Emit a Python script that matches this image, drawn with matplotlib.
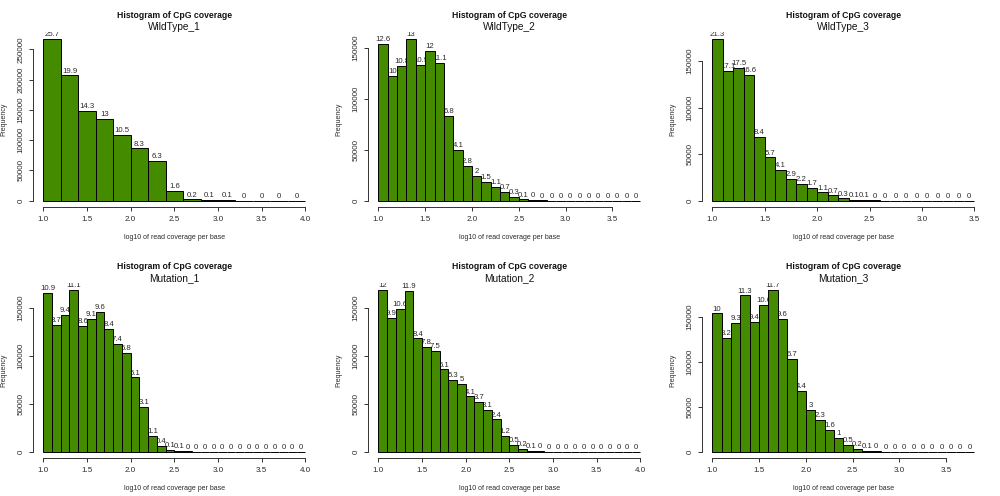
import matplotlib.pyplot as plt
import numpy as np

plt.rc('font', family='Liberation Sans')

# histogram breaks (log10 of read coverage per base)
breaks_wt1 = np.round(np.arange(1.0, 4.0001, 0.2), 1)
breaks_wt2 = np.round(np.arange(1.0, 3.8001, 0.1), 1)
breaks_wt3 = np.round(np.arange(1.0, 3.5001, 0.1), 1)
breaks_mu1 = np.round(np.arange(1.0, 4.0001, 0.1), 1)
breaks_mu2 = np.round(np.arange(1.0, 4.0001, 0.1), 1)
breaks_mu3 = np.round(np.arange(1.0, 3.8001, 0.1), 1)

# bin counts
counts_wt1 = [267300, 207000, 148700, 135200, 109200, 86300, 65500, 16600, 2100,
              1000, 900, 300, 150, 80, 40]
counts_wt2 = [153600, 121900, 131700, 158500, 132900, 146300, 135300, 82900, 50000,
              34100, 24400, 18300, 13400, 8500, 3700, 1200, 500, 250, 150, 100,
              60, 40, 30, 20, 10, 10, 5, 5]
counts_wt3 = [174000, 139700, 143000, 135600, 68600, 46600, 33500, 23700, 18000,
              13900, 9000, 5700, 2500, 1000, 600, 300, 150, 80, 50, 30, 20, 10, 10, 5, 5]
counts_mu1 = [165400, 132000, 142600, 168400, 130500, 138000, 145600, 127400, 112300,
              103200, 77400, 47000, 16700, 6100, 1800, 900, 400, 200, 120, 80, 50,
              30, 20, 15, 10, 8, 5, 3, 2, 1]
counts_mu2 = [168400, 138900, 148700, 167000, 117900, 109400, 105200, 85600, 74400,
              70200, 57500, 51900, 43500, 33700, 16800, 7000, 2800, 1100, 450, 200,
              100, 60, 40, 25, 15, 10, 6, 4, 2, 1]
counts_mu3 = [153500, 125900, 142800, 173500, 144300, 162700, 179600, 147400, 102800,
              67500, 46000, 35300, 24600, 15400, 7700, 3100, 1300, 500, 250, 120, 70,
              40, 25, 15, 10, 5, 3, 2]

# percentage labels printed above the bars
pct_wt1 = [25.7, 19.9, 14.3, 13, 10.5, 8.3, 6.3, 1.6, 0.2, 0.1, 0.1, 0, 0, 0, 0]
pct_wt2 = [12.6, 10, 10.8, 13, 10.9, 12, 11.1, 6.8, 4.1, 2.8, 2, 1.5, 1.1, 0.7, 0.3,
           0.1, 0, 0, 0, 0, 0, 0, 0, 0, 0, 0, 0, 0]
pct_wt3 = [21.3, 17.1, 17.5, 16.6, 8.4, 5.7, 4.1, 2.9, 2.2, 1.7, 1.1, 0.7, 0.3, 0.1,
           0.1, 0, 0, 0, 0, 0, 0, 0, 0, 0, 0]
pct_mu1 = [10.9, 8.7, 9.4, 11.1, 8.6, 9.1, 9.6, 8.4, 7.4, 6.8, 5.1, 3.1, 1.1, 0.4,
           0.1, 0.1, 0, 0, 0, 0, 0, 0, 0, 0, 0, 0, 0, 0, 0, 0]
pct_mu2 = [12, 9.9, 10.6, 11.9, 8.4, 7.8, 7.5, 6.1, 5.3, 5, 4.1, 3.7, 3.1, 2.4, 1.2,
           0.5, 0.2, 0.1, 0, 0, 0, 0, 0, 0, 0, 0, 0, 0, 0, 0]
pct_mu3 = [10, 8.2, 9.3, 11.3, 9.4, 10.6, 11.7, 9.6, 6.7, 4.4, 3, 2.3, 1.6, 1, 0.5,
           0.2, 0.1, 0, 0, 0, 0, 0, 0, 0, 0, 0, 0, 0]

samples = ['WildType_1', 'WildType_2', 'WildType_3', 'Mutation_1', 'Mutation_2', 'Mutation_3']
breaks = [breaks_wt1, breaks_wt2, breaks_wt3, breaks_mu1, breaks_mu2, breaks_mu3]
counts = [counts_wt1, counts_wt2, counts_wt3, counts_mu1, counts_mu2, counts_mu3]
pcts = [pct_wt1, pct_wt2, pct_wt3, pct_mu1, pct_mu2, pct_mu3]
xtick_sets = [[1.0, 1.5, 2.0, 2.5, 3.0, 3.5, 4.0], [1.0, 1.5, 2.0, 2.5, 3.0, 3.5],
              [1.0, 1.5, 2.0, 2.5, 3.0, 3.5], [1.0, 1.5, 2.0, 2.5, 3.0, 3.5, 4.0],
              [1.0, 1.5, 2.0, 2.5, 3.0, 3.5, 4.0], [1.0, 1.5, 2.0, 2.5, 3.0, 3.5]]
ytick_sets = [[0, 50000, 100000, 150000, 200000, 250000]] + [[0, 50000, 100000, 150000]] * 5

fig = plt.figure(figsize=(10, 4.96), dpi=100)
lefts = [0.0328, 0.3679, 0.7018]
bottoms = [0.5823, 0.0762]
w, h = 0.283, 0.3524
txt = '#2a2a2a'

for i in range(6):
    ax = fig.add_axes([lefts[i % 3], bottoms[i // 3], w, h])
    edges = breaks[i]
    c = counts[i]
    # bars sit above the labels, so a tall neighbour hides part of a label
    ax.bar(edges[:-1], c, width=np.diff(edges), align='edge',
           color='#458B00', edgecolor='black', linewidth=0.7, zorder=2)

    lo, hi = edges[0], edges[-1]
    pad = 0.04 * (hi - lo)
    ax.set_xlim(lo - pad, hi + pad)
    ymax = max(c)
    ax.set_ylim(-0.04 * ymax, 1.04 * ymax)

    # percentage on top of each bar, clipped to the plot region like R does
    mids = (edges[:-1] + edges[1:]) / 2
    for xm, yv, p in zip(mids, c, pcts[i]):
        ax.annotate('%g' % p, (xm, yv), xytext=(0, 0.6), textcoords='offset points',
                    ha='center', va='bottom', fontsize=5.6, color=txt, zorder=1,
                    clip_on=True, annotation_clip=False)

    for s in ['top', 'right']:
        ax.spines[s].set_visible(False)
    xt = xtick_sets[i]
    yt = ytick_sets[i]
    ax.spines['bottom'].set_bounds(xt[0], xt[-1])
    ax.spines['left'].set_bounds(yt[0], yt[-1])
    for s in ['bottom', 'left']:
        ax.spines[s].set_linewidth(0.7)
        ax.spines[s].set_color('#333333')

    ax.set_xticks(xt)
    ax.set_xticklabels(['%.1f' % v for v in xt])
    ax.set_yticks(yt)
    ax.set_yticklabels([str(v) for v in yt], rotation=90, va='center')
    ax.tick_params(direction='out', length=3, width=0.7, labelsize=5.8,
                   colors='#333333', labelcolor=txt, pad=3)

    ax.annotate('Histogram of CpG coverage', (0.5, 1), xycoords='axes fraction',
                xytext=(0, 12), textcoords='offset points', ha='center', va='center',
                fontsize=6.2, weight='bold', color='#111111')
    ax.annotate(samples[i], (0.5, 1), xycoords='axes fraction',
                xytext=(0, 3.6), textcoords='offset points', ha='center', va='center',
                fontsize=7.3, color='#111111')
    ax.annotate('log10 of read coverage per base', (0.5, 0), xycoords='axes fraction',
                xytext=(0, -21.6), textcoords='offset points', ha='center', va='center',
                fontsize=5.0, color=txt)
    ax.annotate('Frequency', (0, 0.5), xycoords='axes fraction',
                xytext=(-20.9, 0), textcoords='offset points', ha='center', va='center',
                rotation=90, fontsize=5.0, color=txt)

fig.savefig('out.png', dpi=100)
